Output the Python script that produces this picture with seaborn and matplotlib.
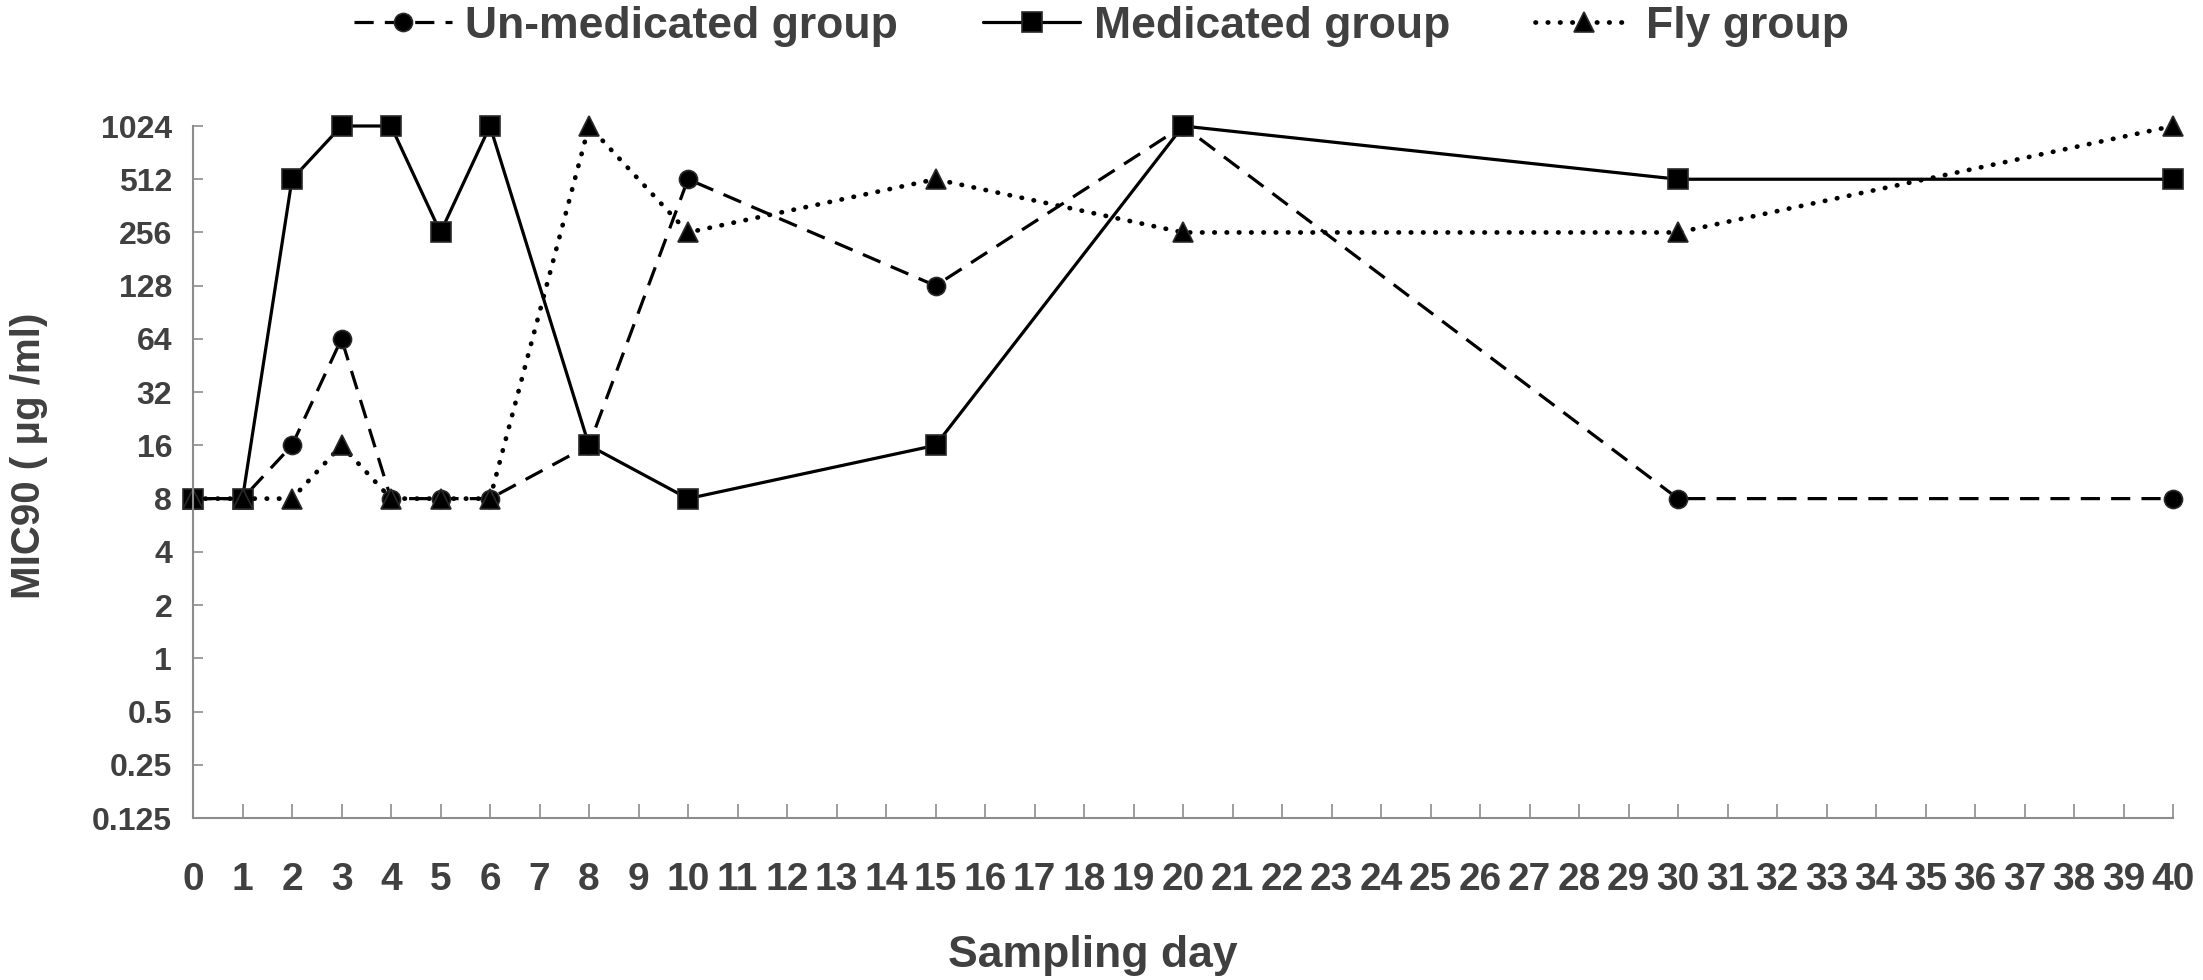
import matplotlib
matplotlib.use("Agg")
import matplotlib.pyplot as plt
import numpy as np
import pandas as pd
import seaborn as sns

# sampling days and MIC90 values (ug/ml)
days = [0, 1, 2, 3, 4, 5, 6, 8, 10, 15, 20, 30, 40]
unmedicated = [8, 8, 16, 64, 8, 8, 8, 16, 512, 128, 1024, 8, 8]
medicated = [8, 8, 512, 1024, 1024, 256, 1024, 16, 8, 16, 1024, 512, 512]
fly = [8, 8, 8, 16, 8, 8, 8, 1024, 256, 512, 256, 256, 1024]

group_names = ["Un-medicated group", "Medicated group", "Fly group"]
y_ticks = [0.125, 0.25, 0.5, 1, 2, 4, 8, 16, 32, 64, 128, 256, 512, 1024]
y_tick_labels = ["0.125", "0.25", "0.5", "1", "2", "4", "8", "16", "32", "64", "128", "256", "512", "1024"]
x_ticks = list(range(0, 41))

df = pd.DataFrame({
    "day": days * 3,
    "mic": unmedicated + medicated + fly,
    "group": [g for g in group_names for _ in days],
})

sns.set_style("ticks")
plt.rcParams["font.family"] = ["Liberation Sans", "DejaVu Sans"]
plt.rcParams["font.weight"] = "bold"

TEXT = "#404040"
AXIS = "#8c8c8c"

fig = plt.figure(figsize=(22.03, 9.8), dpi=100)
ax = fig.add_axes([193 / 2203, 1 - 818 / 980, 1980 / 2203, 692 / 980])

styles = {
    "Un-medicated group": dict(linestyle=(0, (6, 3.5)), marker="o", markersize=13, linewidth=2.3),
    "Medicated group": dict(linestyle="-", marker="s", markersize=14.5, linewidth=2.3),
    "Fly group": dict(linestyle=(0, (0.1, 2.5)), marker="^", markersize=14, linewidth=3.4,
                      dash_capstyle="round"),
}

for name in group_names:
    sub = df[df["group"] == name]
    sns.lineplot(data=sub, x="day", y="mic", ax=ax, color="black", label=name,
                 markeredgecolor="#2a2a2a", markeredgewidth=1.2, markerfacecolor="black",
                 clip_on=False, **styles[name])

ax.set_yscale("log", base=2)
ax.set_ylim(0.125, 1024)
ax.set_xlim(0, 40)
ax.set_yticks(y_ticks)
ax.set_yticklabels(y_tick_labels)
ax.minorticks_off()
ax.set_xticks(x_ticks)
ax.set_xticklabels([str(d) for d in x_ticks])

ax.tick_params(axis="x", direction="in", length=10, width=1.2, color=AXIS, pad=32,
               labelsize=28, labelcolor=TEXT)
ax.tick_params(axis="y", direction="in", length=7, width=1.2, color=AXIS, pad=15,
               labelsize=23, labelcolor=TEXT)
for lab in ax.get_xticklabels() + ax.get_yticklabels():
    lab.set_fontweight("bold")

sns.despine(ax=ax)
for side in ["left", "bottom"]:
    ax.spines[side].set_color(AXIS)
    ax.spines[side].set_linewidth(1.5)

ax.set_xlabel("Sampling day", fontsize=32, fontweight="bold", color=TEXT)
ax.xaxis.set_label_coords(0.4545, -0.198)
ax.xaxis.label.set_va("center")
ax.set_ylabel("MIC90 ( \u03bcg /ml)", fontsize=29, fontweight="bold", color=TEXT)
ax.yaxis.set_label_coords(-0.083, 0.523)
ax.yaxis.label.set_va("center")

handles, labels = ax.get_legend_handles_labels()
ax.get_legend().remove()
fig.legend(handles, labels, loc="upper center", bbox_to_anchor=(0.5, 1.012), ncol=3,
           frameon=False, prop={"size": 32, "weight": "bold"}, labelcolor=TEXT,
           handlelength=2.2, handletextpad=0.3, columnspacing=1.9, borderaxespad=0)

fig.savefig("out.png", dpi=100)
